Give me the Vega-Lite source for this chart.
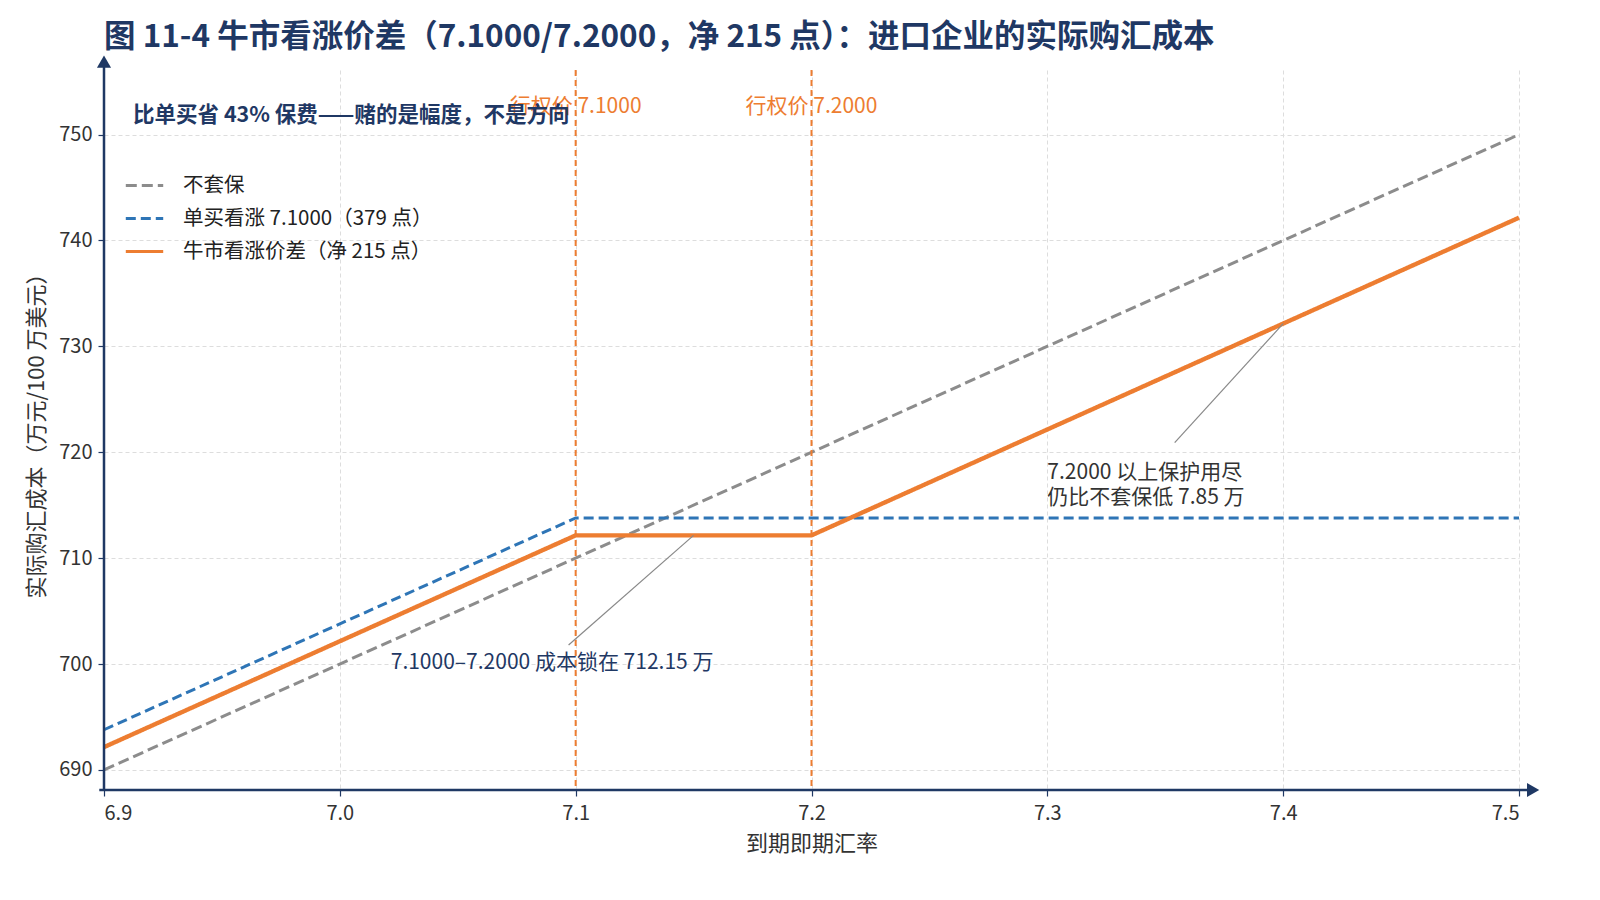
{
  "$schema": "https://vega.github.io/schema/vega-lite/v6.json",
  "description": "Bull call spread 7.1000/7.2000: effective FX purchase cost for an importer",
  "width": 1415,
  "height": 720,
  "autosize": {"type": "none"},
  "padding": {"left": 104, "top": 70, "right": 81, "bottom": 110},
  "background": "white",
  "title": {
    "text": "图 11-4 牛市看涨价差（7.1000/7.2000，净 215 点）：进口企业的实际购汇成本",
    "anchor": "start",
    "frame": "group",
    "font": "Noto Sans CJK SC",
    "fontSize": 31.5,
    "fontWeight": "bold",
    "color": "#1f3864",
    "offset": 2
  },
  "datasets": {
    "lines": [
      {"series": "不套保", "rate": 6.9, "cost": 690},
      {"series": "不套保", "rate": 7.5, "cost": 750},
      {"series": "单买看涨 7.1000（379 点）", "rate": 6.9, "cost": 693.79},
      {"series": "单买看涨 7.1000（379 点）", "rate": 7.1, "cost": 713.79},
      {"series": "单买看涨 7.1000（379 点）", "rate": 7.5, "cost": 713.79},
      {"series": "牛市看涨价差（净 215 点）", "rate": 6.9, "cost": 692.15},
      {"series": "牛市看涨价差（净 215 点）", "rate": 7.1, "cost": 712.15},
      {"series": "牛市看涨价差（净 215 点）", "rate": 7.2, "cost": 712.15},
      {"series": "牛市看涨价差（净 215 点）", "rate": 7.5, "cost": 742.15}
    ],
    "strikes": [
      {"strike": 7.1, "label": "行权价 7.1000"},
      {"strike": 7.2, "label": "行权价 7.2000"}
    ],
    "pointers": [
      {"x": 7.15, "y": 712.15, "x2": 7.097, "y2": 701.8},
      {"x": 7.4, "y": 732.15, "x2": 7.354, "y2": 720.9}
    ],
    "one": [{}]
  },
  "layer": [
    {
      "data": {"name": "lines"},
      "mark": {"type": "line", "strokeCap": "butt"},
      "encoding": {
        "x": {
          "field": "rate",
          "type": "quantitative",
          "title": "到期即期汇率",
          "scale": {"domain": [6.9, 7.5], "nice": false, "zero": false},
          "axis": {
            "values": [6.9, 7.0, 7.1, 7.2, 7.3, 7.4, 7.5],
            "format": ".1f",
            "labelPadding": 7,
            "titlePadding": 10
          }
        },
        "y": {
          "field": "cost",
          "type": "quantitative",
          "title": "实际购汇成本（万元/100 万美元）",
          "scale": {"domain": [688.1, 756.1], "nice": false, "zero": false},
          "axis": {
            "values": [690, 700, 710, 720, 730, 740, 750],
            "labelPadding": 6,
            "titlePadding": 10
          }
        },
        "color": {
          "field": "series",
          "type": "nominal",
          "scale": {
            "domain": ["不套保", "单买看涨 7.1000（379 点）", "牛市看涨价差（净 215 点）"],
            "range": ["#8c8c8c", "#2e75b6", "#ed7d31"]
          },
          "legend": {
            "title": null,
            "orient": "none",
            "legendX": 20,
            "legendY": 95,
            "symbolType": "stroke",
            "symbolSize": 1400,
            "symbolStrokeWidth": 3,
            "labelFontSize": 20.5,
            "labelFont": "Noto Sans CJK SC",
            "labelColor": "#222222",
            "labelOffset": 18,
            "labelLimit": 0,
            "rowPadding": 2,
            "padding": 0
          }
        },
        "strokeDash": {
          "field": "series",
          "type": "nominal",
          "scale": {
            "domain": ["不套保", "单买看涨 7.1000（379 点）", "牛市看涨价差（净 215 点）"],
            "range": [[11, 5], [10, 5], [1, 0]]
          },
          "legend": {
            "title": null,
            "orient": "none",
            "legendX": 20,
            "legendY": 95,
            "symbolType": "stroke",
            "symbolSize": 1400,
            "symbolStrokeWidth": 3,
            "labelFontSize": 20.5,
            "labelFont": "Noto Sans CJK SC",
            "labelColor": "#222222",
            "labelOffset": 18,
            "labelLimit": 0,
            "rowPadding": 2,
            "padding": 0
          }
        },
        "strokeWidth": {
          "condition": {"test": "datum.series === '牛市看涨价差（净 215 点）'", "value": 4.4},
          "value": 3
        }
      }
    },
    {
      "data": {"name": "strikes"},
      "mark": {"type": "rule", "color": "#ed7d31", "strokeWidth": 2, "strokeDash": [6, 4]},
      "encoding": {
        "x": {"field": "strike", "type": "quantitative"}
      }
    },
    {
      "data": {"name": "strikes"},
      "mark": {"type": "text", "color": "#ed7d31", "fontSize": 21, "font": "Noto Sans CJK SC", "align": "center", "baseline": "middle"},
      "encoding": {
        "x": {"field": "strike", "type": "quantitative"},
        "y": {"datum": 752.6},
        "text": {"field": "label"}
      }
    },
    {
      "data": {"name": "pointers"},
      "mark": {"type": "rule", "color": "#888888", "strokeWidth": 1.2},
      "encoding": {
        "x": {"field": "x", "type": "quantitative"},
        "y": {"field": "y", "type": "quantitative"},
        "x2": {"field": "x2"},
        "y2": {"field": "y2"}
      }
    },
    {
      "data": {"name": "one"},
      "mark": {"type": "text", "color": "#1f3864", "fontSize": 21.5, "fontWeight": "bold", "font": "Noto Sans CJK SC", "align": "left", "baseline": "middle"},
      "encoding": {
        "x": {"datum": 6.9123},
        "y": {"datum": 751.8},
        "text": {"value": "比单买省 43% 保费——赌的是幅度，不是方向"}
      }
    },
    {
      "data": {"name": "one"},
      "mark": {"type": "text", "color": "#1f3864", "fontSize": 21, "font": "Noto Sans CJK SC", "align": "center", "baseline": "middle"},
      "encoding": {
        "x": {"datum": 7.09},
        "y": {"datum": 700.1},
        "text": {"value": "7.1000–7.2000 成本锁在 712.15 万"}
      }
    },
    {
      "data": {"name": "one"},
      "mark": {"type": "text", "color": "#333333", "fontSize": 21, "font": "Noto Sans CJK SC", "align": "left", "baseline": "middle", "lineHeight": 25},
      "encoding": {
        "x": {"datum": 7.3},
        "y": {"datum": 718.0},
        "text": {"value": ["7.2000 以上保护用尽", "仍比不套保低 7.85 万"]}
      }
    },
    {
      "data": {"name": "one"},
      "mark": {"type": "rule", "color": "#1f3864", "strokeWidth": 2.5},
      "encoding": {
        "x": {"datum": 6.9},
        "y": {"datum": 688.1},
        "y2": {"datum": 756.9}
      }
    },
    {
      "data": {"name": "one"},
      "mark": {"type": "rule", "color": "#1f3864", "strokeWidth": 2.5},
      "encoding": {
        "x": {"datum": 6.898},
        "x2": {"datum": 7.506},
        "y": {"datum": 688.1}
      }
    },
    {
      "data": {"name": "one"},
      "mark": {"type": "point", "shape": "triangle-up", "filled": true, "color": "#1f3864", "opacity": 1, "size": 200},
      "encoding": {
        "x": {"datum": 6.9},
        "y": {"datum": 756.9}
      }
    },
    {
      "data": {"name": "one"},
      "mark": {"type": "point", "shape": "triangle-right", "filled": true, "color": "#1f3864", "opacity": 1, "size": 200},
      "encoding": {
        "x": {"datum": 7.506},
        "y": {"datum": 688.1}
      }
    }
  ],
  "config": {
    "font": "Noto Sans CJK SC",
    "view": {"stroke": null},
    "axis": {
      "domain": false,
      "tickColor": "#1f3864",
      "tickSize": 6,
      "tickWidth": 1.2,
      "labelColor": "#333333",
      "labelFont": "Noto Sans CJK SC",
      "labelFontSize": 20,
      "titleColor": "#333333",
      "titleFont": "Noto Sans CJK SC",
      "titleFontSize": 22,
      "titleFontWeight": "normal",
      "grid": true,
      "gridColor": "#dddddd",
      "gridDash": [4, 3],
      "gridWidth": 1
    }
  }
}
